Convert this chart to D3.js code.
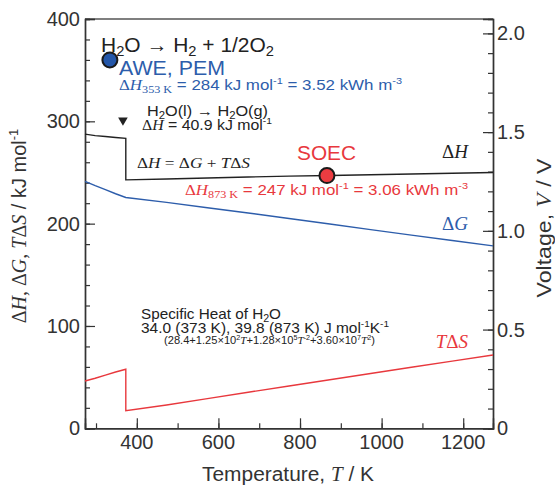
<!DOCTYPE html>
<html><head><meta charset="utf-8">
<script src="https://cdn.jsdelivr.net/npm/d3@7"></script>
<style>body{margin:0;background:#fff}svg{display:block}</style>
</head><body>
<svg id="c" width="555" height="489"></svg>
<script>
// ---- data ----
const T_liq   = [273, 298, 323, 348, 373];
const dH_liq  = [287.5, 286.0, 285.2, 284.2, 283.3];
const dG_liq  = [241.3, 237.1, 233.2, 229.2, 225.6];
const TdS_liq = [46.2, 48.9, 52.0, 55.0, 57.7];

const T_gas   = [373, 473, 573, 673, 773, 873, 973, 1073, 1173, 1273];
const dH_gas  = [242.8, 243.6, 244.6, 245.6, 246.4, 247.0, 247.8, 248.5, 249.2, 250.0];
const dG_gas  = [225.6, 220.8, 215.6, 210.4, 205.0, 199.6, 194.2, 188.8, 183.5, 178.3];
const TdS_gas = [17.2, 22.8, 29.0, 35.2, 41.4, 47.4, 53.6, 59.7, 65.7, 71.7];

const xTicks = [400, 600, 800, 1000, 1200];
const yTicks = [0, 100, 200, 300, 400];
const vTicks = [0, 0.5, 1.0, 1.5, 2.0];
const vTickLabels = ["0", "0.5", "1.0", "1.5", "2.0"];
const awePoint = [334, 360];
const soecPoint = [866, 247];
const vapPoint = [366, 301];
const twoF = 192.97; // kJ per V per mol (2F)

// ---- layout ----
const L = 85, R = 493, TOP = 19, BOT = 428.3;
const svg = d3.select("#c");
const x = d3.scaleLinear().domain([273, 1273]).range([L, R]);
const y = d3.scaleLinear().domain([0, 400]).range([BOT, TOP]);
const yV = d3.scaleLinear().domain([0, 400 / twoF]).range([BOT, TOP]);

const SANS = "'Liberation Sans', Arial, sans-serif";
const SERIF = "'Liberation Serif', 'Times New Roman', serif";
const AX = "#333";
const BLUE = "#2d5dab", RED = "#e8383d", BLK = "#222";

// rich text helper
function rich(g, px, py, segs, fs, color, opts = {}) {
  const t = g.append("text").attr("x", px).attr("y", py).attr("fill", color)
    .attr("font-size", fs).attr("font-family", SANS);
  if (opts.anchor) t.attr("text-anchor", opts.anchor);
  if (opts.rotate) t.attr("transform", `rotate(${opts.rotate},${px},${py})`);
  if (opts.len) t.attr("textLength", opts.len).attr("lengthAdjust", "spacingAndGlyphs");
  let shift = 0;
  segs.forEach(s => {
    const sp = t.append("tspan").text(s.t);
    let target = 0, sz = fs * (s.k || 1);
    if (s.s === "sup") { target = -fs * 0.38; sz = fs * (s.k || 0.65); }
    if (s.s === "sub") { target = fs * 0.22; sz = fs * (s.k || 0.7); }
    if (target !== shift) { sp.attr("dy", target - shift); shift = target; }
    sp.attr("font-size", sz);
    if (s.f === "serif" || s.f === "serifi") sp.attr("font-family", SERIF);
    if (s.f === "serifi") sp.attr("font-style", "italic");
  });
  return t;
}

// ---- frame ----
svg.append("line").attr("x1", L).attr("x2", R).attr("y1", TOP).attr("y2", TOP)
  .attr("stroke", "#555").attr("stroke-width", 1.5);

svg.append("g").attr("transform", `translate(0,${BOT})`)
  .call(d3.axisBottom(x).tickValues(d3.range(300, 1273, 100)).tickSize(-5).tickFormat(""));
svg.append("g").attr("transform", `translate(0,${BOT})`)
  .call(d3.axisBottom(x).tickValues(xTicks).tickSize(-10).tickFormat(""));
svg.append("g").attr("transform", `translate(${L},0)`)
  .call(d3.axisLeft(y).tickValues(d3.range(0, 401, 20)).tickSize(-5).tickFormat(""));
svg.append("g").attr("transform", `translate(${L},0)`)
  .call(d3.axisLeft(y).tickValues(yTicks).tickSize(-10).tickFormat(""));
svg.append("g").attr("transform", `translate(${R},0)`)
  .call(d3.axisRight(yV).tickValues(d3.range(0, 2.01, 0.1)).tickSize(-5).tickFormat(""));
svg.append("g").attr("transform", `translate(${R},0)`)
  .call(d3.axisRight(yV).tickValues(vTicks).tickSize(-10).tickFormat(""));
svg.selectAll(".domain").attr("stroke", AX).attr("stroke-width", 1.4);
svg.selectAll(".tick line").attr("stroke", AX).attr("stroke-width", 1.2);

// tick labels
svg.append("g").selectAll("text").data(xTicks).join("text")
  .attr("x", d => x(d)).attr("y", 449).attr("text-anchor", "middle")
  .attr("font-family", SANS).attr("font-size", 20).attr("fill", AX).text(d => d);
svg.append("g").selectAll("text").data(yTicks).join("text")
  .attr("x", 80).attr("y", d => y(d) + 7).attr("text-anchor", "end")
  .attr("font-family", SANS).attr("font-size", 20).attr("fill", AX).text(d => d);
svg.append("g").selectAll("text").data(vTicks).join("text")
  .attr("x", 497).attr("y", d => yV(d) + 7).attr("text-anchor", "start")
  .attr("font-family", SANS).attr("font-size", 20).attr("fill", AX).text((d, i) => vTickLabels[i]);

// axis titles
rich(svg, 288, 481, [{t: "Temperature, "}, {t: "T", f: "serifi"}, {t: " / K"}], 20, AX, {anchor: "middle", len: 172});
rich(svg, 26, 226, [{t: "Δ", f: "serif"}, {t: "H", f: "serifi"}, {t: ", ", f: "serif"}, {t: "Δ", f: "serif"}, {t: "G", f: "serifi"},
  {t: ", ", f: "serif"}, {t: "T", f: "serifi"}, {t: "Δ", f: "serif"}, {t: "S", f: "serifi"}, {t: " / kJ mol"}, {t: "-1", s: "sup"}],
  20, AX, {anchor: "middle", rotate: -90});
rich(svg, 551, 228, [{t: "Voltage, "}, {t: "V", f: "serifi"}, {t: " / V"}], 20, AX, {anchor: "middle", rotate: -90, len: 139});

// ---- lines ----
const line = d3.line().x(d => x(d[0])).y(d => y(d[1]));
const zip = (a, b) => a.map((v, i) => [v, b[i]]);
const dHpts = zip(T_liq, dH_liq).concat(zip(T_gas, dH_gas));
const dGpts = zip(T_liq, dG_liq).concat(zip(T_gas, dG_gas).slice(1));
const TdSpts = zip(T_liq, TdS_liq).concat(zip(T_gas, TdS_gas));
svg.append("path").attr("d", line(dHpts)).attr("fill", "none").attr("stroke", BLK).attr("stroke-width", 1.4);
svg.append("path").attr("d", line(dGpts)).attr("fill", "none").attr("stroke", BLUE).attr("stroke-width", 1.4);
svg.append("path").attr("d", line(TdSpts)).attr("fill", "none").attr("stroke", RED).attr("stroke-width", 1.4);

// ---- markers ----
svg.append("circle").attr("cx", x(awePoint[0])).attr("cy", y(awePoint[1])).attr("r", 7.5)
  .attr("fill", "#2356a8").attr("stroke", "#1a1a1a").attr("stroke-width", 2);
svg.append("circle").attr("cx", x(soecPoint[0])).attr("cy", y(soecPoint[1])).attr("r", 7.5)
  .attr("fill", "#ec3c41").attr("stroke", "#1a1a1a").attr("stroke-width", 2);
svg.append("path").attr("d", d3.symbol(d3.symbolTriangle, 40)())
  .attr("transform", `translate(${x(vapPoint[0])},${y(vapPoint[1])}) rotate(180)`).attr("fill", BLK);

// ---- annotations ----
rich(svg, 101, 52, [{t: "H"}, {t: "2", s: "sub"}, {t: "O → H"}, {t: "2", s: "sub"}, {t: " + 1/2O"}, {t: "2", s: "sub"}], 20, BLK, {len: 173});
rich(svg, 119, 75, [{t: "AWE, PEM"}], 20, BLUE, {len: 106});
rich(svg, 119, 90, [{t: "Δ", f: "serif"}, {t: "H", f: "serifi"}, {t: "353 K", f: "serif", s: "sub", k: 0.72},
  {t: " = 284 kJ mol"}, {t: "-1", s: "sup"}, {t: " = 3.52 kWh m"}, {t: "-3", s: "sup"}], 14.5, BLUE, {len: 283});
rich(svg, 147, 116, [{t: "H"}, {t: "2", s: "sub"}, {t: "O(l) → H"}, {t: "2", s: "sub"}, {t: "O(g)"}], 14.5, BLK, {len: 121});
rich(svg, 142, 130, [{t: "Δ", f: "serif"}, {t: "H", f: "serifi"}, {t: " = 40.9 kJ mol"}, {t: "-1", s: "sup"}], 14.5, BLK, {len: 130});
rich(svg, 137, 168, [{t: "Δ", f: "serif"}, {t: "H", f: "serifi"}, {t: " = Δ", f: "serif"}, {t: "G", f: "serifi"},
  {t: " + ", f: "serif"}, {t: "T", f: "serifi"}, {t: "Δ", f: "serif"}, {t: "S", f: "serifi"}], 15, BLK, {len: 113});
rich(svg, 297, 160, [{t: "SOEC"}], 20, RED, {len: 59});
rich(svg, 185, 195, [{t: "Δ", f: "serif"}, {t: "H", f: "serifi"}, {t: "873 K", f: "serif", s: "sub", k: 0.72},
  {t: " = 247 kJ mol"}, {t: "-1", s: "sup"}, {t: " = 3.06 kWh m"}, {t: "-3", s: "sup"}], 14.5, RED, {len: 283});
rich(svg, 468, 158, [{t: "Δ", f: "serif"}, {t: "H", f: "serifi"}], 19, BLK, {anchor: "end"});
rich(svg, 468, 230, [{t: "Δ", f: "serif"}, {t: "G", f: "serifi"}], 19, BLUE, {anchor: "end"});
rich(svg, 468, 348, [{t: "T", f: "serifi"}, {t: "Δ", f: "serif"}, {t: "S", f: "serifi"}], 19, RED, {anchor: "end"});

rich(svg, 141, 319, [{t: "Specific Heat of H"}, {t: "2", s: "sub"}, {t: "O"}], 14.5, BLK, {len: 140});
rich(svg, 141, 333, [{t: "34.0 (373 K), 39.8 (873 K) J mol"}, {t: "-1", s: "sup"}, {t: "K"}, {t: "-1", s: "sup"}], 14.5, BLK, {len: 248});
rich(svg, 164, 344, [{t: "(28.4+1.25×10"}, {t: "2", s: "sup"}, {t: "T", f: "serifi"}, {t: "+1.28×10"}, {t: "5", s: "sup"},
  {t: "T", f: "serifi"}, {t: "-2", s: "sup"}, {t: "+3.60×10"}, {t: "7", s: "sup"}, {t: "T", f: "serifi"}, {t: "2", s: "sup"}, {t: ")"}], 10, BLK, {len: 211});
</script>
</body></html>
